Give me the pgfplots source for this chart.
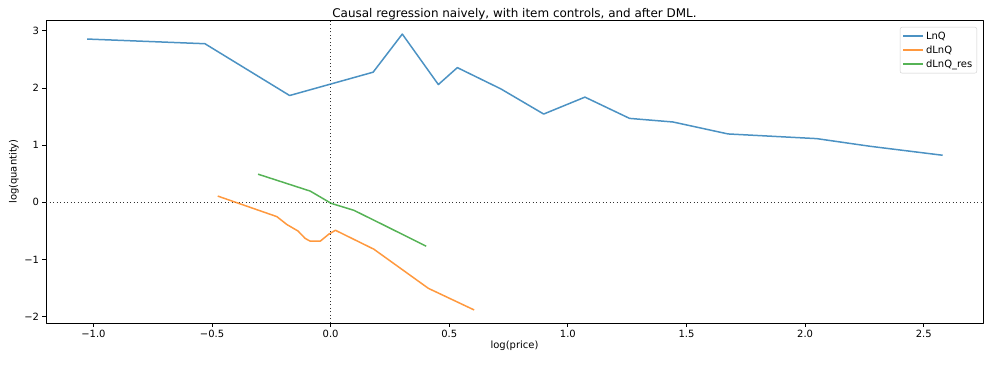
\documentclass[border=0pt]{standalone}
\usepackage{fontspec}
\setmainfont{DejaVu Sans}
\usepackage{pgfplots}
\pgfplotsset{compat=1.18}
\definecolor{tabblue}{HTML}{1F77B4}
\definecolor{taborange}{HTML}{FF7F0E}
\definecolor{tabgreen}{HTML}{2CA02C}
\begin{document}
\begin{tikzpicture}
\begin{axis}[
  at={(0,0)}, anchor=south west,
  scale only axis, width=937bp, height=303bp,
  xmin=-1.20, xmax=2.75, ymin=-2.11, ymax=3.19,
  axis line style={line width=0.8bp, black},
  tick align=outside, tick pos=left,
  major tick length=3.5bp,
  every tick/.style={line width=0.8bp, black},
  xtick={-1,-0.5,0,0.5,1,1.5,2,2.5},
  xticklabels={−1.0,−0.5,0.0,0.5,1.0,1.5,2.0,2.5},
  ytick={-2,-1,0,1,2,3},
  yticklabels={−2,−1,0,1,2,3},
  ticklabel style={font=\fontsize{10}{12}\selectfont},
  xlabel={log(price)}, ylabel={log(quantity)},
  label style={font=\fontsize{10}{12}\selectfont},
  xlabel style={at={(axis description cs:0.5,-0.0759)}, anchor=center},
  ylabel style={at={(axis description cs:-0.0342,0.5)}, anchor=center},
  title={Causal regression naively, with item controls, and after DML.},
  title style={at={(axis description cs:0.5,1)}, anchor=south, yshift=-9bp, font=\fontsize{12}{14}\selectfont},
  legend style={at={(1,1)}, anchor=north east, xshift=-6bp, yshift=-7bp,
    draw=black!20, rounded corners=2bp, font=\fontsize{10}{12}\selectfont,
    inner sep=2.5bp, row sep=1bp},
  legend cell align=left,
  legend image code/.code={\draw[line width=1.5bp] (0bp,0bp) -- (20bp,0bp);},
  line join=round,
]
\addplot[black!80, line width=1.3bp, dash pattern=on 1.3bp off 2.2bp, forget plot] coordinates {(0,-2.11) (0,3.19)};
\addplot[black!80, line width=1.3bp, dash pattern=on 1.3bp off 2.2bp, forget plot] coordinates {(-1.20,0) (2.75,0)};
\addplot[tabblue, line width=1.5bp, opacity=0.8] coordinates {
(-1.027,2.857) (-0.530,2.775) (-0.173,1.869) (0.179,2.277) (0.302,2.944)
(0.454,2.061) (0.534,2.357) (0.717,1.986) (0.898,1.545) (1.072,1.841)
(1.260,1.469) (1.443,1.406) (1.675,1.197) (2.049,1.115) (2.274,0.981) (2.580,0.824)};
\addlegendentry{LnQ}
\addplot[taborange, line width=1.5bp, opacity=0.8] coordinates {
(-0.476,0.110) (-0.227,-0.249) (-0.184,-0.389) (-0.138,-0.500) (-0.107,-0.632)
(-0.086,-0.679) (-0.044,-0.679) (-0.008,-0.557) (0.020,-0.488) (0.182,-0.819)
(0.412,-1.504) (0.605,-1.882)};
\addlegendentry{dLnQ}
\addplot[tabgreen, line width=1.5bp, opacity=0.8] coordinates {
(-0.306,0.493) (-0.086,0.197) (0.002,-0.017) (0.098,-0.139) (0.217,-0.383) (0.403,-0.767)};
\addlegendentry{dLnQ\_res}
\end{axis}
\pgfresetboundingbox
\path (-46bp,-42bp) rectangle (949bp,323bp);
\end{tikzpicture}
\end{document}
